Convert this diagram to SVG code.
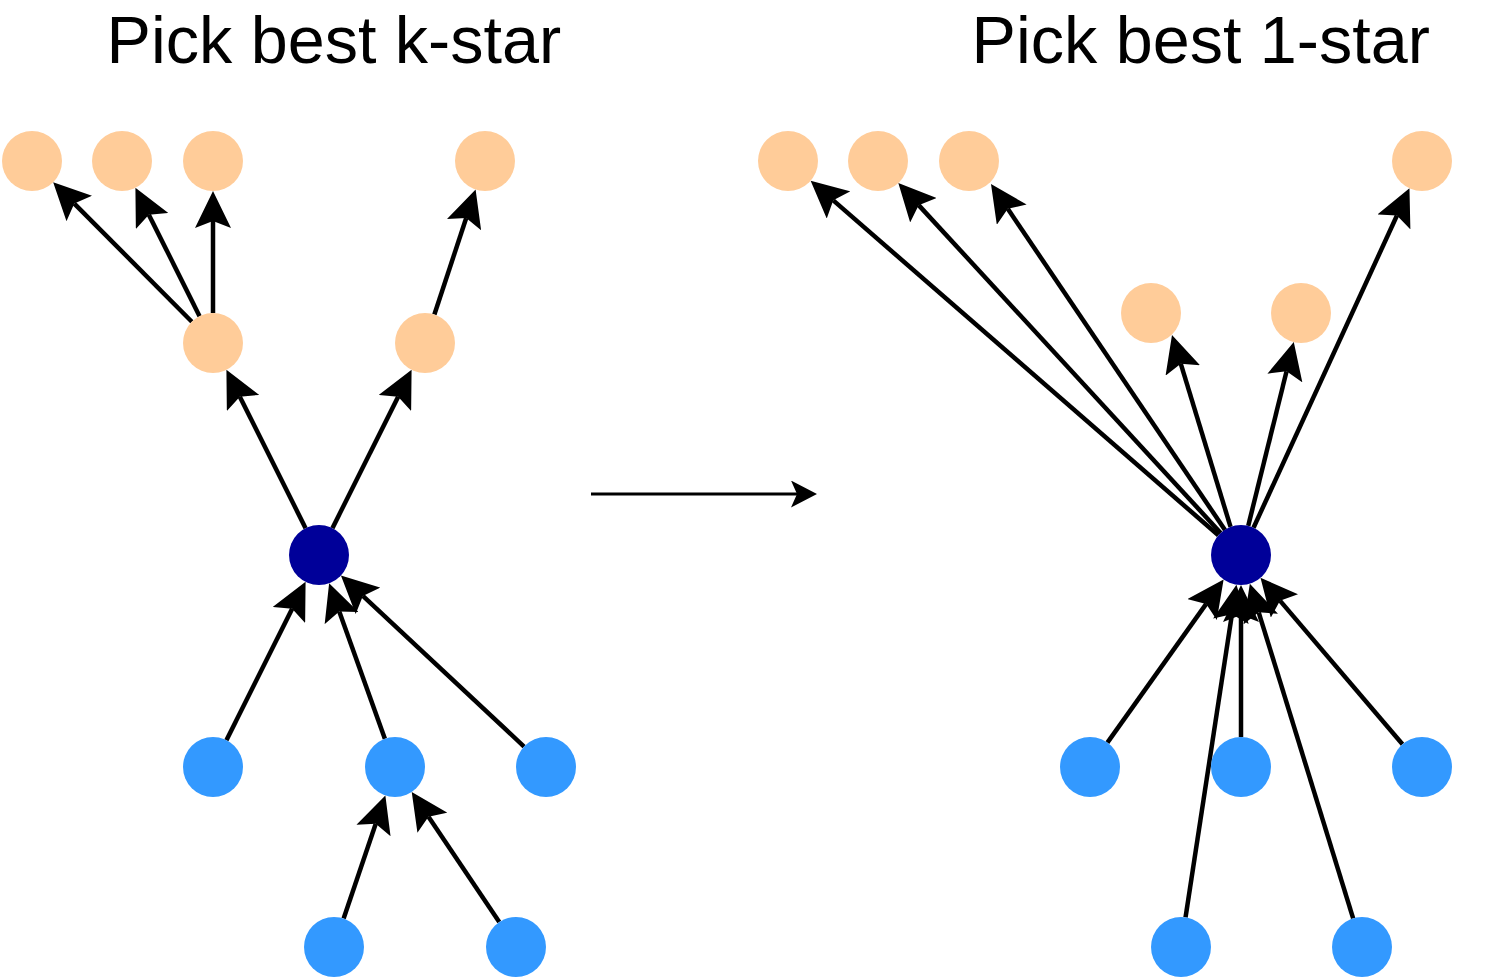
<svg xmlns="http://www.w3.org/2000/svg" width="1501" height="980" viewBox="0 0 1501 980">
  <style>
    .title { font-family: "Liberation Sans", Arial, Helvetica, sans-serif; font-size: 66.5px; fill: #000000; }
    .edge { stroke: #000000; stroke-width: 4.5; fill: none; marker-end: url(#ah); }
    .thin { stroke: #000000; stroke-width: 3; fill: none; marker-end: url(#ahs); }
    .peach { fill: #FFCC99; }
    .blue { fill: #3399FF; }
    .dark { fill: #000099; }
  </style>
  <defs>
    <marker id="ah" markerUnits="userSpaceOnUse" markerWidth="37" markerHeight="36" viewBox="0 0 37 36" refX="7" refY="18" orient="auto">
      <path d="M37,18 L0,0 L7,18 L0,36 Z" fill="#000000"/>
    </marker>
    <marker id="ahs" markerUnits="userSpaceOnUse" markerWidth="26" markerHeight="27" viewBox="0 0 26 27" refX="6" refY="13.5" orient="auto">
      <path d="M26,13.5 L0,0 L6,13.5 L0,27 Z" fill="#000000"/>
    </marker>
  </defs>
  <rect x="0" y="0" width="1501" height="980" fill="#FFFFFF"/>

  <g id="titles">
    <text id="title-left" class="title" x="106.6" y="63.3">Pick best k-star</text>
    <text id="title-right" class="title" x="971.6" y="63.3">Pick best 1-star</text>
  </g>

  <g id="connectors">
    <!-- left panel -->
    <line class="edge" x1="191.84" y1="321.73" x2="74.31" y2="203.54"/>
    <line class="edge" x1="199.58" y1="316.17" x2="148.83" y2="214.67"/>
    <line class="edge" x1="213" y1="313" x2="213" y2="221"/>
    <line class="edge" x1="434.39" y1="314.51" x2="466.21" y2="217.98"/>
    <line class="edge" x1="305.58" y1="528.17" x2="239.83" y2="396.67"/>
    <line class="edge" x1="332.42" y1="528.17" x2="398.17" y2="396.67"/>
    <line class="edge" x1="226.42" y1="740.17" x2="292.17" y2="608.67"/>
    <line class="edge" x1="384.88" y1="738.76" x2="339.25" y2="611.48"/>
    <line class="edge" x1="524.07" y1="746.52" x2="362.85" y2="595.95"/>
    <line class="edge" x1="343.63" y1="918.59" x2="375.74" y2="823.83"/>
    <line class="edge" x1="499.26" y1="922.10" x2="428.47" y2="816.80"/>
    <!-- transition arrow -->
    <line class="thin" x1="591" y1="494" x2="797" y2="494"/>
    <!-- right panel -->
    <line class="edge" x1="1218.36" y1="535.31" x2="833.27" y2="200.37"/>
    <line class="edge" x1="1220.67" y1="532.94" x2="918.65" y2="205.13"/>
    <line class="edge" x1="1225" y1="530" x2="1007.8" y2="208.85"/>
    <line class="edge" x1="1253.52" y1="527.74" x2="1396.95" y2="215.52"/>
    <line class="edge" x1="1230.54" y1="526.88" x2="1180.75" y2="363.7"/>
    <line class="edge" x1="1248.22" y1="525.88" x2="1286.56" y2="371.24"/>
    <line class="edge" x1="1107.4" y1="742.6" x2="1206.2" y2="603.9"/>
    <line class="edge" x1="1241" y1="737" x2="1241" y2="615"/>
    <line class="edge" x1="1402.5" y1="744.2" x2="1279.96" y2="600.63"/>
    <line class="edge" x1="1185.54" y1="917.34" x2="1231.92" y2="614.31"/>
    <line class="edge" x1="1353.15" y1="918.33" x2="1258.69" y2="612.33"/>
  </g>

  <!-- left panel nodes -->
  <g id="L-top1"><circle class="peach" cx="32" cy="161" r="30"/></g>
  <g id="L-top2"><circle class="peach" cx="122" cy="161" r="30"/></g>
  <g id="L-top3"><circle class="peach" cx="213" cy="161" r="30"/></g>
  <g id="L-top4"><circle class="peach" cx="485" cy="161" r="30"/></g>
  <g id="L-mid1"><circle class="peach" cx="213" cy="343" r="30"/></g>
  <g id="L-mid2"><circle class="peach" cx="425" cy="343" r="30"/></g>
  <g id="L-center"><circle class="dark" cx="319" cy="555" r="30"/></g>
  <g id="L-in1"><circle class="blue" cx="213" cy="767" r="30"/></g>
  <g id="L-in2"><circle class="blue" cx="395" cy="767" r="30"/></g>
  <g id="L-in3"><circle class="blue" cx="546" cy="767" r="30"/></g>
  <g id="L-in4"><circle class="blue" cx="334" cy="947" r="30"/></g>
  <g id="L-in5"><circle class="blue" cx="516" cy="947" r="30"/></g>

  <!-- right panel nodes -->
  <g id="R-top1"><circle class="peach" cx="788" cy="161" r="30"/></g>
  <g id="R-top2"><circle class="peach" cx="878" cy="161" r="30"/></g>
  <g id="R-top3"><circle class="peach" cx="969" cy="161" r="30"/></g>
  <g id="R-top4"><circle class="peach" cx="1422" cy="161" r="30"/></g>
  <g id="R-mid1"><circle class="peach" cx="1151" cy="313" r="30"/></g>
  <g id="R-mid2"><circle class="peach" cx="1301" cy="313" r="30"/></g>
  <g id="R-center"><circle class="dark" cx="1241" cy="555" r="30"/></g>
  <g id="R-in1"><circle class="blue" cx="1090" cy="767" r="30"/></g>
  <g id="R-in2"><circle class="blue" cx="1241" cy="767" r="30"/></g>
  <g id="R-in3"><circle class="blue" cx="1422" cy="767" r="30"/></g>
  <g id="R-in4"><circle class="blue" cx="1181" cy="947" r="30"/></g>
  <g id="R-in5"><circle class="blue" cx="1362" cy="947" r="30"/></g>
</svg>
